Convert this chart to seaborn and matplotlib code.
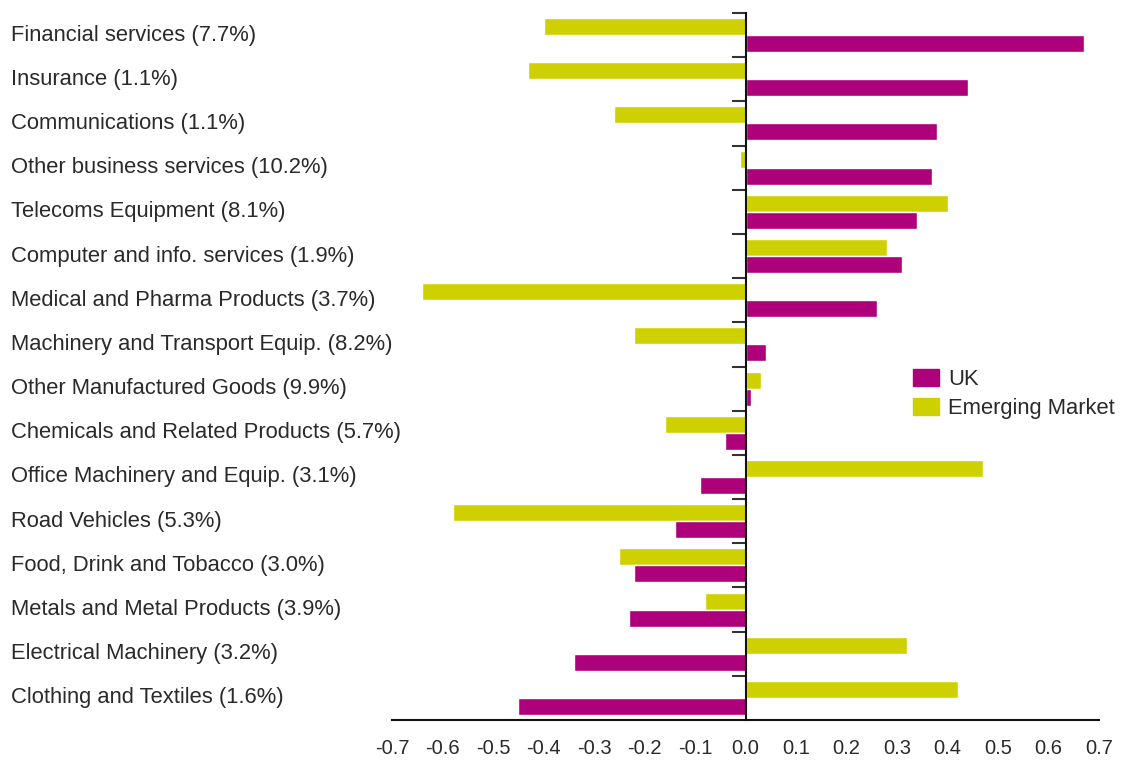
import pandas as pd
import matplotlib.pyplot as plt
import seaborn as sns
from matplotlib.patches import Patch
from matplotlib.transforms import blended_transform_factory

# Data
categories = [
    "Financial services (7.7%)", "Insurance (1.1%)", "Communications (1.1%)",
    "Other business services (10.2%)", "Telecoms Equipment (8.1%)",
    "Computer and info. services (1.9%)", "Medical and Pharma Products (3.7%)",
    "Machinery and Transport Equip. (8.2%)", "Other Manufactured Goods (9.9%)",
    "Chemicals and Related Products (5.7%)", "Office Machinery and Equip. (3.1%)",
    "Road Vehicles (5.3%)", "Food, Drink and Tobacco (3.0%)",
    "Metals and Metal Products (3.9%)", "Electrical Machinery (3.2%)",
    "Clothing and Textiles (1.6%)",
]
uk = [0.67, 0.44, 0.38, 0.37, 0.34, 0.31, 0.26, 0.04, 0.01, -0.04, -0.09,
      -0.14, -0.22, -0.23, -0.34, -0.45]
emerging = [-0.40, -0.43, -0.26, -0.01, 0.40, 0.28, -0.64, -0.22, 0.03, -0.16,
            0.47, -0.58, -0.25, -0.08, 0.32, 0.42]
x_ticks = [-0.7, -0.6, -0.5, -0.4, -0.3, -0.2, -0.1, 0.0, 0.1, 0.2, 0.3, 0.4, 0.5, 0.6, 0.7]

uk_color = "#AE007A"
em_color = "#CFD000"
text_color = "#2a2a2a"

df = pd.DataFrame({
    "Category": categories * 2,
    "Series": ["Emerging Market"] * len(categories) + ["UK"] * len(categories),
    "Value": emerging + uk,
})

sns.set_style("white")
plt.rcParams['font.family'] = ['Liberation Sans', 'DejaVu Sans']

fig = plt.figure(figsize=(11.26, 7.62), dpi=100)
ax = fig.add_axes([392 / 1126, 1 - 720 / 762, 707 / 1126, 707 / 762])

sns.barplot(data=df, y="Category", x="Value", hue="Series",
            hue_order=["Emerging Market", "UK"],
            palette={"Emerging Market": em_color, "UK": uk_color},
            order=categories, orient="h", width=0.77, saturation=1,
            legend=False, ax=ax)

ax.set_xlim(-0.7, 0.7)
ax.set_ylim(len(categories) - 0.5, -0.5)
ax.set_xlabel("")
ax.set_ylabel("")

# x axis
ax.set_xticks(x_ticks)
ax.set_xticklabels([f"{v:.1f}" for v in x_ticks], fontsize=14.5, color=text_color)
ax.tick_params(axis="x", direction="in", length=10, width=1.2, color="#222222", pad=14)

# y axis: spine at zero with boundary ticks
ax.spines["left"].set_position(("data", 0))
ax.spines["left"].set_linewidth(1.5)
ax.spines["left"].set_color("#111111")
ax.spines["bottom"].set_linewidth(1.5)
ax.spines["bottom"].set_color("#111111")
ax.spines["top"].set_visible(False)
ax.spines["right"].set_visible(False)
ax.set_yticks([i - 0.5 for i in range(len(categories))])
ax.set_yticklabels([])
ax.tick_params(axis="y", direction="out", length=10, width=1.5, color="#333333", left=True)

# category labels at the left edge of the figure
trans = blended_transform_factory(fig.transFigure, ax.transData)
for i, name in enumerate(categories):
    ax.text(11 / 1126, i, name, transform=trans, ha="left", va="center",
            fontsize=15.8, color=text_color)

handles = [Patch(color=uk_color, label="UK"), Patch(color=em_color, label="Emerging Market")]
fig.legend(handles=handles, loc="upper left", bbox_to_anchor=(893 / 1126, 1 - 349 / 762),
           frameon=False, fontsize=15.8, handlelength=1.2, handleheight=0.85,
           handletextpad=0.4, labelspacing=0.35, labelcolor=text_color)

fig.savefig("out.png", dpi=100)
